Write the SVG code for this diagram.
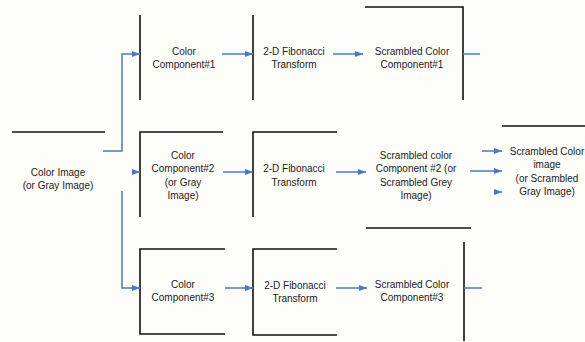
<svg xmlns="http://www.w3.org/2000/svg" width="585" height="342" viewBox="0 0 585 342">
<defs>
<style>
.edge{stroke:#111;stroke-width:1.6;fill:none}
.con{stroke:#4a78c8;stroke-width:1.5;fill:none}
text{font-family:"Liberation Sans",Arial,sans-serif;font-size:10px;fill:#222;text-anchor:middle}
</style>
<marker id="ah" viewBox="0 0 8 6" refX="8" refY="3" markerWidth="8" markerHeight="6" markerUnits="userSpaceOnUse" orient="auto">
<path d="M0,0 L8,3 L0,6 z" fill="#4a78c8"/>
</marker>
</defs>
<rect width="585" height="342" fill="#fdfdfa"/>
<g id="input">
<line class="edge" x1="12" y1="132" x2="105" y2="132"/>
<text x="58" y="175.5">Color Image</text>
<text x="58" y="188.5">(or Gray Image)</text>
</g>
<g id="comp1">
<line class="edge" x1="140" y1="15" x2="140" y2="100"/>
<text x="184" y="55">Color</text>
<text x="184" y="67.5">Component#1</text>
</g>
<g id="fib1">
<line class="edge" x1="253" y1="15" x2="253" y2="100"/>
<text x="294" y="55">2-D Fibonacci</text>
<text x="294" y="67.5">Transform</text>
</g>
<g id="scr1">
<polyline class="edge" points="365,7 463,7 463,100"/>
<text x="412" y="55">Scrambled Color</text>
<text x="412" y="67.5">Component#1</text>
</g>
<g id="comp2">
<polyline class="edge" points="140,217 140,132 223,132"/>
<text x="183" y="158.5">Color</text>
<text x="183" y="172">Component#2</text>
<text x="183" y="185.5">(or Gray</text>
<text x="183" y="199">Image)</text>
</g>
<g id="fib2">
<polyline class="edge" points="253,217 253,132 337,132"/>
<text x="294" y="172">2-D Fibonacci</text>
<text x="294" y="185.5">Transform</text>
</g>
<g id="scr2">
<text x="416" y="158.5">Scrambled color</text>
<text x="416" y="172">Component #2 (or</text>
<text x="416" y="185.5">Scrambled Grey</text>
<text x="416" y="199">Image)</text>
</g>
<g id="output">
<line class="edge" x1="502" y1="126" x2="585" y2="126"/>
<text x="547" y="154.5">Scrambled Color</text>
<text x="547" y="167.5">image</text>
<text x="547" y="181.5">(or Scrambled</text>
<text x="547" y="194.5">Gray Image)</text>
</g>
<g id="comp3">
<polyline class="edge" points="225,249 140,249 140,334 225,334"/>
<text x="183" y="287.5">Color</text>
<text x="183" y="301">Component#3</text>
</g>
<g id="fib3">
<polyline class="edge" points="337,249 253,249 253,335 337,335"/>
<text x="295" y="288.5">2-D Fibonacci</text>
<text x="295" y="302">Transform</text>
</g>
<g id="scr3">
<line class="edge" x1="366" y1="228" x2="471" y2="228"/>
<line class="edge" x1="464" y1="242" x2="464" y2="341"/>
<text x="412" y="287.5">Scrambled Color</text>
<text x="412" y="301">Component#3</text>
</g>
<g id="connectors">
<polyline class="con" points="103,151 122,151 122,54 140,54" marker-end="url(#ah)"/>
<line class="con" x1="133" y1="172" x2="140" y2="172" marker-end="url(#ah)"/>
<polyline class="con" points="122,191 122,288 140,288" marker-end="url(#ah)"/>
<line class="con" x1="222" y1="54" x2="253" y2="54" marker-end="url(#ah)"/>
<line class="con" x1="333" y1="54" x2="363" y2="54" marker-end="url(#ah)"/>
<line class="con" x1="463" y1="54" x2="480" y2="54"/>
<line class="con" x1="223" y1="172" x2="253" y2="172" marker-end="url(#ah)"/>
<line class="con" x1="336" y1="172" x2="366" y2="172" marker-end="url(#ah)"/>
<line class="con" x1="470" y1="171" x2="502" y2="171" marker-end="url(#ah)"/>
<line class="con" x1="482" y1="151" x2="502" y2="151" marker-end="url(#ah)"/>
<line class="con" x1="494" y1="192" x2="502" y2="192" marker-end="url(#ah)"/>
<line class="con" x1="225" y1="288" x2="253" y2="288" marker-end="url(#ah)"/>
<line class="con" x1="336" y1="288" x2="367" y2="288" marker-end="url(#ah)"/>
<line class="con" x1="464" y1="288" x2="482" y2="288"/>
</g>
</svg>
